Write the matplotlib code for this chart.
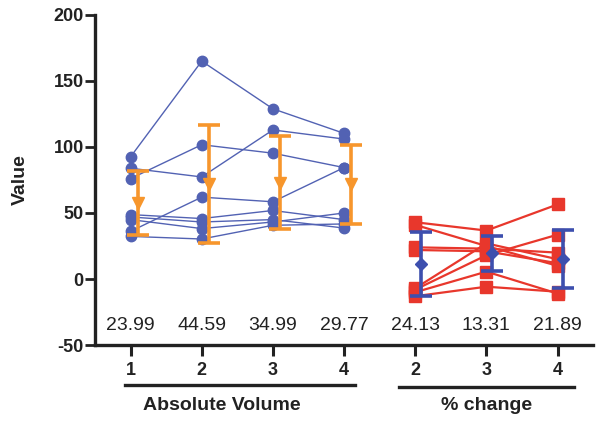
import numpy as np
import matplotlib
matplotlib.use("Agg")
import matplotlib.pyplot as plt

plt.rcParams["font.family"] = ["Liberation Sans", "DejaVu Sans"]
plt.rcParams["axes.unicode_minus"] = False

# absolute volume, one list per subject, visits 1..4
absLines = [
    [92.5, 165.0, 128.9, 110.3],
    [83.9, 77.3, 112.9, 106.0],
    [76.0, 101.7, 95.3, 84.4],
    [36.1, 62.0, 58.5, 84.4],
    [48.8, 45.8, 51.9, 45.0],
    [47.0, 43.2, 45.0, 38.6],
    [45.0, 38.2, 43.2, 50.0],
    [32.3, 30.3, 40.7, 41.7],
]
# % change vs visit 1, visits 2..4
pctLines = [
    [43.0, 36.7, 56.5],
    [41.0, 25.0, 10.0],
    [24.0, 23.0, 20.0],
    [22.0, 21.0, 12.0],
    [-7.0, 27.0, 15.0],
    [-8.0, 18.0, 33.6],
    [-10.0, 5.6, -11.0],
    [-13.0, -5.8, -9.6],
]
absMean = [57.7, 72.2, 73.0, 71.7]
absSD = [23.99, 44.59, 34.99, 29.77]
pctMean = [11.2, 19.6, 15.3]
pctSD = [24.13, 13.31, 21.89]
tickLabels = ["1", "2", "3", "4", "2", "3", "4"]

blueDot = "#5262b3"
orange = "#f7962c"
red = "#e8372c"
darkBlue = "#3d4fae"
ink = "#222222"

fig = plt.figure(figsize=(6.01, 4.26), dpi=100)
ax = fig.add_axes([0.158, 0.190, 0.829, 0.775])

xAbs = np.arange(4)
xPct = np.arange(4, 7)

for row in absLines:
    ax.plot(xAbs, row, color=blueDot, lw=1.0, marker="o", ms=7.5, mec=blueDot, mfc=blueDot, zorder=3)
for row in pctLines:
    ax.plot(xPct, row, color=red, lw=1.6, marker="s", ms=8.5, mec=red, mfc=red, zorder=3)

# mean +/- SD
ax.errorbar(xAbs + 0.1, absMean, yerr=absSD, fmt="v", color=orange, ms=9, lw=2.6,
            capsize=8, capthick=2.6, zorder=4)
ax.errorbar(xPct + 0.08, pctMean, yerr=pctSD, fmt="D", color=darkBlue, ms=6, lw=2.6,
            capsize=8, capthick=2.6, zorder=4)

# SD values written under the data
for i, sd in enumerate(absSD + pctSD):
    ax.text(i, -35.5, f"{sd:.2f}", ha="center", va="center", fontsize=14, color=ink)

ax.set_xlim(-0.5, 6.5)
ax.set_ylim(-50, 200)
ax.set_yticks([-50, 0, 50, 100, 150, 200])
ax.set_xticks(range(7))
ax.set_xticklabels(tickLabels)
for lbl in ax.get_xticklabels() + ax.get_yticklabels():
    lbl.set_fontweight("bold")
    lbl.set_fontsize(13)
    lbl.set_color(ink)
ax.tick_params(axis="y", length=7, width=2, pad=1, colors=ink)
ax.tick_params(axis="x", length=8, width=2.2, pad=4, colors=ink)
ax.set_ylabel("Value", fontsize=14, fontweight="bold", color=ink, labelpad=18)

ax.spines["top"].set_visible(False)
ax.spines["right"].set_visible(False)
for s in ["left", "bottom"]:
    ax.spines[s].set_linewidth(2.4)
    ax.spines[s].set_color(ink)

# group brackets under the axis
trans = ax.get_xaxis_transform()
ax.plot([-0.08, 3.15], [-0.121, -0.121], transform=trans, color=ink, lw=2.4, clip_on=False)
ax.plot([3.77, 6.23], [-0.126, -0.126], transform=trans, color=ink, lw=2.4, clip_on=False)
ax.text(1.28, -0.182, "Absolute Volume", transform=trans, ha="center", va="center",
        fontsize=14, fontweight="bold", color=ink)
ax.text(5.0, -0.182, "% change", transform=trans, ha="center", va="center",
        fontsize=14, fontweight="bold", color=ink)

fig.savefig("out.png", dpi=100)
